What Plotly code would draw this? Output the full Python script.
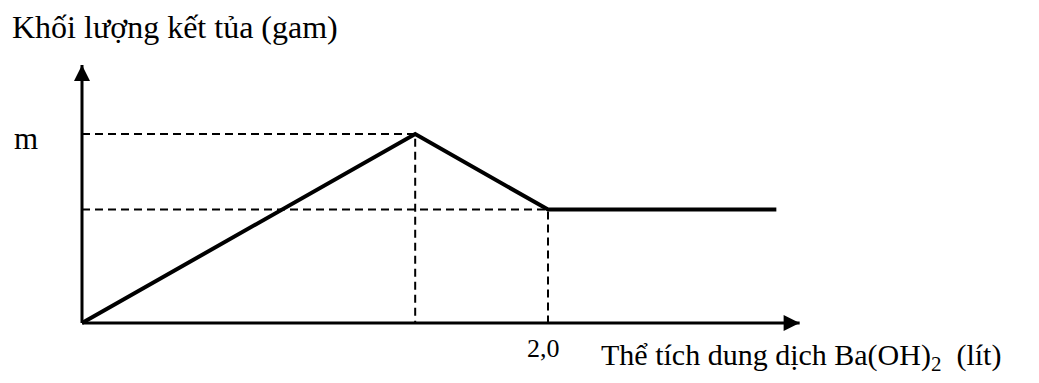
import plotly.graph_objects as go

# data (x in litres, y relative to m)
vol = [0, 1.43, 2.0, 2.98]
mass = [0, 1.0, 0.6, 0.6]

peak_x, peak_y = vol[1], mass[1]
knee_x, knee_y = vol[2], mass[2]

x_axis_end = 3.08
y_axis_end = 1.365

x_tick_label = "2,0"
y_tick_label = "m"
title_text = "Khối lượng kết tủa (gam)"
x_title_text = "Thể tích dung dịch Ba(OH)<sub>2</sub>  (lít)"

FONT = "Liberation Serif, Times New Roman, serif"

fig = go.Figure()

# dashed guide lines
dash = dict(color="black", width=2, dash="8px,5px")
for gx, gy in [(peak_x, peak_y), (knee_x, knee_y)]:
    fig.add_trace(go.Scatter(x=[0, gx, gx], y=[gy, gy, 0], mode="lines",
                             line=dash, hoverinfo="skip", showlegend=False))

# axes
axis_line = dict(color="black", width=3)
fig.add_trace(go.Scatter(x=[0, 0], y=[0, y_axis_end], mode="lines",
                         line=axis_line, showlegend=False, hoverinfo="skip"))
fig.add_trace(go.Scatter(x=[0, x_axis_end], y=[0, 0], mode="lines",
                         line=axis_line, showlegend=False, hoverinfo="skip"))
# arrow heads (tip sits on the point)
fig.add_trace(go.Scatter(x=[0], y=[y_axis_end], mode="markers",
                         marker=dict(symbol="arrow-up", size=16, color="black",
                                     line=dict(width=0)),
                         showlegend=False, hoverinfo="skip"))
fig.add_trace(go.Scatter(x=[x_axis_end], y=[0], mode="markers",
                         marker=dict(symbol="arrow-right", size=16, color="black",
                                     line=dict(width=0)),
                         showlegend=False, hoverinfo="skip"))

# precipitate curve
fig.add_trace(go.Scatter(x=vol, y=mass, mode="lines",
                         line=dict(color="black", width=4),
                         showlegend=False, hoverinfo="skip"))

fig.add_annotation(x=0, y=peak_y, xref="x", yref="y", text=y_tick_label,
                   showarrow=False, xanchor="right", xshift=-42, yshift=-4,
                   font=dict(family=FONT, size=31, color="black"))
fig.add_annotation(x=knee_x, y=0, xref="x", yref="y", text=x_tick_label,
                   showarrow=False, yanchor="top", xshift=-5, yshift=-9,
                   font=dict(family=FONT, size=26, color="black"))
fig.add_annotation(x=0.002, y=0.949, xref="paper", yref="paper", text=title_text,
                   showarrow=False, xanchor="left", yanchor="middle",
                   font=dict(family=FONT, size=32, color="black"))
fig.add_annotation(x=0.965, y=0.069, xref="paper", yref="paper", text=x_title_text,
                   showarrow=False, xanchor="right", yanchor="middle",
                   font=dict(family=FONT, size=30, color="black"))

# page body keeps an 8px margin, so the figure is 8px smaller than the window
fig.update_xaxes(range=[-0.3176, 4.1073], visible=False)
fig.update_yaxes(range=[-0.3175, 1.6667], visible=False)
fig.update_layout(width=1031, height=375, margin=dict(l=0, r=0, t=0, b=0),
                  plot_bgcolor="white", paper_bgcolor="white")

fig.write_html("out.html")
